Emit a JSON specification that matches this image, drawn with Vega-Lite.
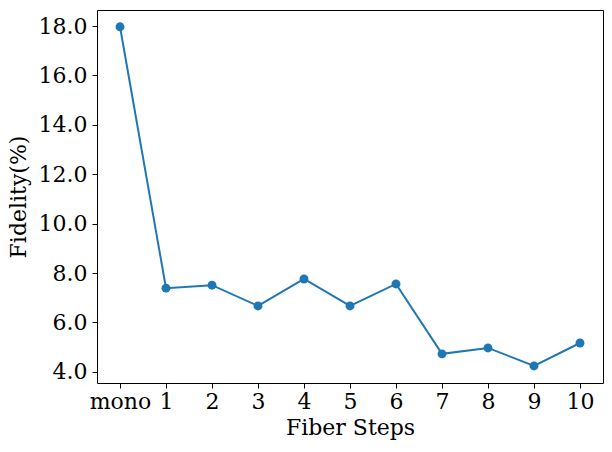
{
  "$schema": "https://vega.github.io/schema/vega-lite/v6.json",
  "width": 506,
  "height": 373,
  "autosize": {"type": "none"},
  "padding": {"left": 97, "top": 10, "right": 9, "bottom": 69},
  "background": "white",
  "config": {
    "font": "DejaVu Serif",
    "view": {"stroke": "black", "strokeWidth": 1},
    "axis": {
      "labelFont": "DejaVu Serif",
      "titleFont": "DejaVu Serif",
      "labelFontSize": 22,
      "titleFontSize": 22,
      "titleFontWeight": "normal",
      "labelColor": "black",
      "titleColor": "black",
      "tickColor": "black",
      "domain": false,
      "grid": false,
      "tickSize": 5,
      "tickWidth": 1
    }
  },
  "data": {
    "values": [
      {"step": "mono", "fidelity": 17.97},
      {"step": "1", "fidelity": 7.39},
      {"step": "2", "fidelity": 7.51},
      {"step": "3", "fidelity": 6.67},
      {"step": "4", "fidelity": 7.76},
      {"step": "5", "fidelity": 6.67},
      {"step": "6", "fidelity": 7.56},
      {"step": "7", "fidelity": 4.73},
      {"step": "8", "fidelity": 4.97},
      {"step": "9", "fidelity": 4.24},
      {"step": "10", "fidelity": 5.17}
    ]
  },
  "encoding": {
    "x": {
      "field": "step",
      "type": "ordinal",
      "sort": null,
      "scale": {"type": "point", "padding": 0.5},
      "axis": {"title": "Fiber Steps", "labelAngle": 0, "labelPadding": 3, "titlePadding": 5}
    },
    "y": {
      "field": "fidelity",
      "type": "quantitative",
      "scale": {"domain": [3.55, 18.65], "nice": false, "zero": false},
      "axis": {"title": "Fidelity(%)", "values": [4, 6, 8, 10, 12, 14, 16, 18], "format": ".1f", "labelPadding": 5, "titlePadding": 8}
    }
  },
  "layer": [
    {"mark": {"type": "line", "color": "#1f77b4", "strokeWidth": 2}},
    {"mark": {"type": "point", "filled": true, "color": "#1f77b4", "size": 80, "opacity": 1}}
  ]
}
